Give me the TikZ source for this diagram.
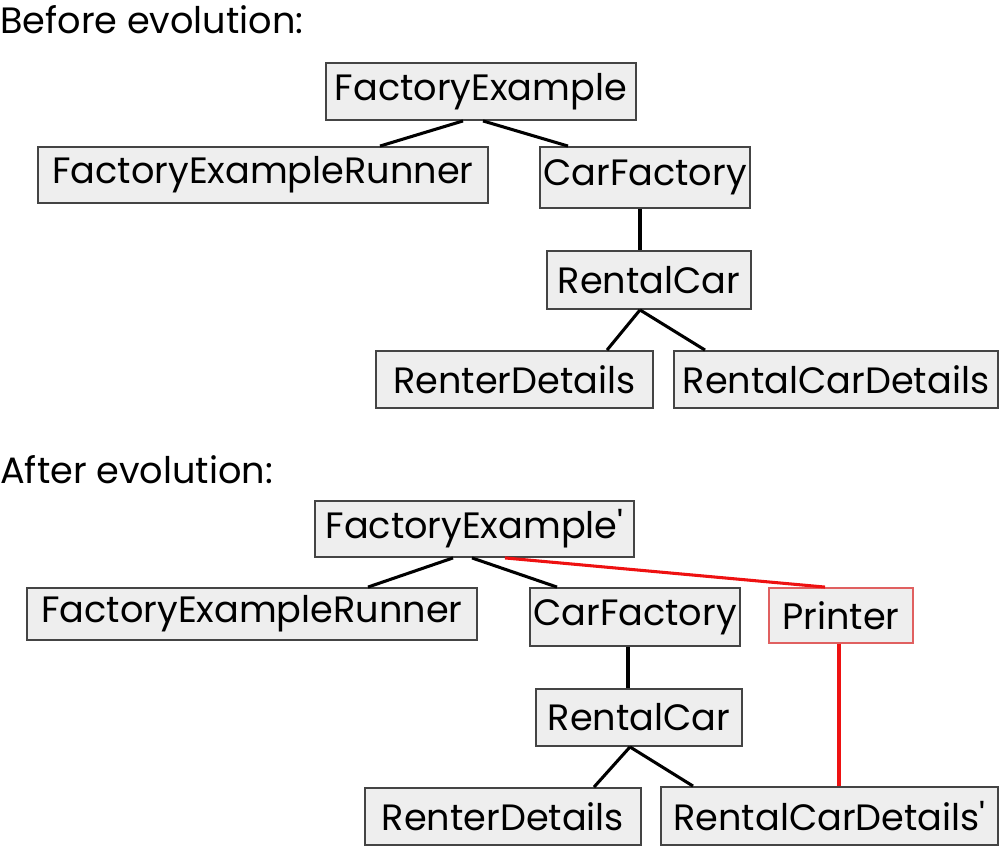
\documentclass[tikz,border=0pt]{standalone}
\usepackage{fontspec}
\setmainfont{Poppins}
\usetikzlibrary{calc}
\definecolor{boxgray}{HTML}{444444}
\definecolor{boxfill}{HTML}{EEEEEE}
\definecolor{redline}{HTML}{EE1111}
\definecolor{redbox}{HTML}{E06060}
\begin{document}
\begin{tikzpicture}[x=0.75pt,y=-0.75pt,
  box/.style={draw=boxgray, fill=boxfill, line width=1.4pt, inner sep=0pt, font=\fontsize{27.5}{30}\selectfont},
  redbox/.style={box, draw=redbox},
  heading/.style={inner sep=0pt, anchor=base west, font=\fontsize{27.5}{30}\selectfont},
  edge/.style={line width=2.3pt, black},
  redge/.style={line width=2.3pt, redline}]
\useasboundingbox (0,0) rectangle (1000,846);
% ---------- Before ----------
\node[heading] (h1) at (0,33) {Before evolution:};
\node[box, minimum width=232.5pt, minimum height=42.75pt] (fe) at (481,91.5) {FactoryExample};
\node[box, minimum width=337.5pt, minimum height=42pt] (fer) at (263,175) {FactoryExampleRunner};
\node[box, minimum width=157.5pt, minimum height=45.75pt] (cf) at (645,177.5) {CarFactory};
\node[box, minimum width=153pt, minimum height=43.5pt] (rc) at (649,280) {RentalCar};
\node[box, minimum width=207.75pt, minimum height=42.75pt] (rd) at (514.5,379.5) {RenterDetails};
\node[box, minimum width=243pt, minimum height=42.75pt] (rcd) at (836,379.5) {RentalCarDetails};
\draw[edge] ($(fe.south)+(-18,0)$) -- ($(fer.north)+(117,0)$);
\draw[edge] ($(fe.south)+(2,0)$) -- ($(cf.north)+(-77,0)$);
\draw[edge] ($(cf.south)+(-5,0)$) -- ($(rc.north)+(-9,0)$);
\draw[edge] ($(rc.south)+(-9,0)$) -- ($(rd.north)+(92.5,0)$);
\draw[edge] ($(rc.south)+(-9,0)$) -- ($(rcd.north)+(-131,0)$);
% ---------- After ----------
\node[heading] (h2) at (0,483) {After evolution:};
\node[box, minimum width=239.25pt, minimum height=42pt] (fe2) at (474.5,529) {FactoryExample\textquotesingle};
\node[box, minimum width=337.5pt, minimum height=39pt] (fer2) at (252,614) {FactoryExampleRunner};
\node[box, minimum width=157.5pt, minimum height=43.5pt] (cf2) at (635,617) {CarFactory};
\node[redbox, minimum width=108pt, minimum height=41.25pt] (pr) at (841,615.5) {Printer};
\node[box, minimum width=154.5pt, minimum height=42.75pt] (rc2) at (639,717.5) {RentalCar};
\node[box, minimum width=207pt, minimum height=42.75pt] (rd2) at (503,816.5) {RenterDetails};
\node[box, minimum width=252.75pt, minimum height=43.5pt] (rcd2) at (829.5,816) {RentalCarDetails\textquotesingle};
\draw[edge] ($(fe2.south)+(-21.5,0)$) -- ($(fer2.north)+(116,0)$);
\draw[edge] ($(fe2.south)+(-2.5,0)$) -- ($(cf2.north)+(-78,0)$);
\draw[redge] ($(fe2.south)+(30.5,0)$) -- ($(pr.north)+(-16,0)$);
\draw[edge] ($(cf2.south)+(-7,0)$) -- ($(rc2.north)+(-11,0)$);
\draw[edge] ($(rc2.south)+(-9,0)$) -- ($(rd2.north)+(91,0)$);
\draw[edge] ($(rc2.south)+(-9,0)$) -- ($(rcd2.north)+(-136.5,0)$);
\draw[redge] ($(pr.south)+(-2,0)$) -- ($(rcd2.north)+(9.5,0)$);
\end{tikzpicture}
\end{document}
